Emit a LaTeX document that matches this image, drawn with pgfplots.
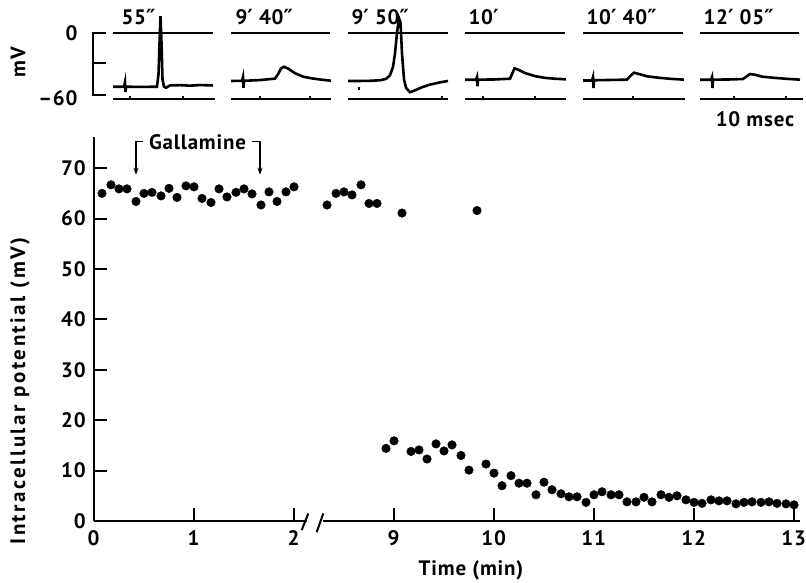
\documentclass[border=0pt]{standalone}
\usepackage{fontspec}
\setmainfont{PT Sans}[LetterSpace=4]
\newfontfamily\spaced{PT Sans}[LetterSpace=12]
\newfontfamily\dejavu{DejaVu Sans}
\usepackage{pgfplots}
\usepackage{pgfplotstable}
\pgfplotsset{compat=1.18}
\usetikzlibrary{arrows.meta}

\newcommand{\pr}{{\dejavu\bfseries\char"2032}}
\newcommand{\dpr}{{\dejavu\bfseries\char"2033}}

% intracellular potential, first 2 min (before the break)
\pgfplotstableread{
t v
0.08 65.0
0.17 66.7
0.25 65.9
0.33 65.9
0.42 63.4
0.50 65.0
0.58 65.2
0.67 64.5
0.75 66.0
0.83 64.2
0.92 66.5
1.00 66.3
1.08 64.0
1.17 63.2
1.25 65.9
1.33 64.3
1.42 65.2
1.50 65.9
1.58 64.9
1.67 62.7
1.75 65.3
1.83 63.4
1.92 65.3
2.00 66.3
}\early

% after the break (8-13 min)
\pgfplotstableread{
t v
8.33 62.7
8.42 65.0
8.50 65.3
8.58 64.7
8.67 66.7
8.75 63.0
8.83 63.0
9.08 61.1
9.83 61.6
8.92 14.4
9.00 15.9
9.17 13.8
9.25 14.1
9.33 12.3
9.42 15.3
9.50 13.9
9.58 15.1
9.67 13.0
9.75 10.1
9.92 11.3
10.00 9.5
10.08 7.0
10.17 9.0
10.25 7.5
10.33 7.5
10.42 5.2
10.50 7.7
10.58 6.2
10.67 5.4
10.75 4.8
10.83 4.8
10.92 3.7
11.00 5.2
11.08 5.8
11.17 5.2
11.25 5.2
11.33 3.8
11.42 3.8
11.50 4.7
11.58 3.8
11.67 5.2
11.75 4.7
11.83 5.0
11.92 4.2
12.00 3.7
12.08 3.5
12.17 4.2
12.25 4.0
12.33 4.0
12.42 3.4
12.50 3.7
12.58 3.8
12.67 3.7
12.75 3.8
12.83 3.5
12.92 3.4
13.00 3.2
}\late

\begin{document}
\begin{tikzpicture}[font=\fontsize{21}{25}\selectfont\bfseries]
\useasboundingbox (0,0) rectangle (806bp,583bp);

% ---- oscilloscope traces (x in px, y in mV)
\begin{axis}[at={(0bp,477.6bp)}, anchor=south west, x=1bp, y=1.038bp,
  xmin=0, xmax=806, ymin=-70, ymax=20, hide axis, clip=false,
  unbounded coords=jump]
% zero lines
\addplot[black, line width=2.4bp] coordinates {(113,0) (213,0) (220,nan)
  (231,0) (330,0) (340,nan) (348,0) (448,0) (455,nan)
  (465,0) (565,0) (575,nan) (583,0) (683,0) (690,nan) (700,0) (799,0)};
% time-marker lines
\addplot[black, line width=2.4bp] coordinates {(113,-63.9) (215,-63.9) (220,nan)
  (231,-63.9) (331,-63.9) (340,nan) (348,-63.9) (448,-63.9) (455,nan)
  (465,-63.9) (566,-63.9) (575,nan) (583,-63.9) (685,-63.9) (690,nan) (700,-63.9) (803,-63.9)};
\addplot[black, line width=1.4bp] coordinates {(130,-63.9) (130,-61.0) (131,nan)
  (183,-63.9) (183,-61.0) (184,nan) (260,-63.9) (260,-61.0) (261,nan)
  (310,-63.9) (310,-61.0) (311,nan) (442,-63.9) (442,-61.0) (443,nan)
  (483,-63.9) (483,-61.0) (484,nan) (535,-63.9) (535,-61.0) (536,nan)
  (633,-63.9) (633,-61.0) (634,nan) (734,-63.9) (734,-61.0) (735,nan)
  (786,-63.9) (786,-61.0)};
% voltage scale bar
\addplot[black, line width=2.4bp] coordinates {(106,0) (92.7,0) (92.7,-60) (106,-60)};
\addplot[black, line width=2.4bp] coordinates {(92.7,-29) (106,-29)};
% 55''
\addplot[black, line width=2.6bp] coordinates {(113,-52) (124,-52) (125,-47.5) (125.5,-57)
  (126,-52) (140,-52.2) (157,-52) (158.5,-40) (159.5,-10) (160.5,16) (161.5,-10)
  (162.5,-45) (164,-52) (166,-53) (170,-50.8) (180,-50.5) (190,-51) (200,-50.4) (213,-50.8)};
% 9'40''
\addplot[black, line width=2.6bp] coordinates {(231,-46.5) (242,-46.3) (243,-42.5) (243.5,-53)
  (244,-46.3) (260,-45.6) (275,-44.2) (278,-40) (281,-34.5) (284,-32.8) (288,-34.5)
  (295,-39) (303,-42.3) (312,-44) (322,-45.3) (331,-46.2)};
% 9'50''
\addplot[black, line width=2.6bp] coordinates {(348,-46.5) (358,-46.5) (370,-46.3) (380,-45.8)
  (386,-44.5) (390,-41) (393,-33) (395,-20) (397,0) (399,14) (400.5,10) (402,-20)
  (404,-45) (406,-53) (410,-57.3) (415,-55.5) (422,-52.5) (430,-50) (440,-47.8) (448,-46.5)};
\addplot[black, line width=1.6bp] coordinates {(359,-52) (359,-55)};
% 10'
\addplot[black, line width=2.6bp] coordinates {(465,-45.3) (476,-45.3) (477,-42.7) (477.5,-51.5)
  (478,-45.2) (495,-45) (510,-44.3) (512,-40) (514.5,-34.3) (518,-35.5) (525,-38.8)
  (535,-41.8) (545,-43.5) (555,-44.3) (566,-44.9)};
% 10'40''
\addplot[black, line width=2.6bp] coordinates {(583,-46) (592,-46) (593,-42.7) (593.5,-53.3)
  (594,-45.8) (610,-45.5) (627,-45.2) (630,-42) (634,-38.5) (640,-40) (647,-42)
  (660,-43.5) (672,-44.5) (684,-45.2)};
% 12'05''
\addplot[black, line width=2.6bp] coordinates {(700,-45.3) (711,-45.3) (712,-42.7) (712.5,-53.3)
  (713,-45.2) (730,-45) (743,-44.6) (746,-42.5) (750,-39.8) (755,-40.5) (762,-42.3)
  (775,-43.5) (788,-44.5) (800,-45.2)};
\end{axis}

\node[anchor=east] at (81bp,550bp) {0};
\node[anchor=east] at (81bp,485bp) {–60};
\node[rotate=90] at (18bp,521bp) {mV};
\node[anchor=base west] at (118bp,558bp) {55\dpr};
\node[anchor=base west] at (232bp,558bp) {9\pr{} 40\dpr};
\node[anchor=base west] at (348bp,558bp) {9\pr{} 50\dpr};
\node[anchor=base west] at (465bp,558bp) {10\pr};
\node[anchor=base west] at (583bp,558bp) {10\pr{} 40\dpr};
\node[anchor=base west] at (700bp,558bp) {12\pr{} 05\dpr};
\node at (755bp,464bp) {10 msec};

% ---- main plot (x: 0-2 min, then 9-13 min shifted by 6)
\begin{axis}[at={(94bp,62bp)}, anchor=south west, x=100bp, y=5.04bp,
  xmin=0, xmax=7.06, ymin=0, ymax=76.2, clip=false,
  axis x line=bottom, axis y line=left,
  x axis line style={draw=none},
  y axis line style={-, line width=2.5bp},
  tick align=inside, major tick length=13bp,
  tick style={line width=2bp, black},
  xtick={0,1,2,3,4,5,6,7},
  xticklabels={\textbf{0},\textbf{1},\textbf{2},\textbf{9},\textbf{10},\textbf{11},\textbf{12},\textbf{13}},
  ytick={0,10,20,30,40,50,60,70},
  yticklabels={\textbf{0},\textbf{10},\textbf{20},\textbf{30},\textbf{40},\textbf{50},\textbf{60},\textbf{70}},
  xticklabel style={yshift=-6bp},
  yticklabel style={xshift=-4bp}]
\addplot[only marks, mark=*, mark size=4.3bp, black] table[x=t, y=v] {\early};
\addplot[only marks, mark=*, mark size=4.3bp, black] table[x expr=\thisrow{t}-6, y=v] {\late};
\draw[line width=2.5bp] (axis cs:0,0) -- (axis cs:2.13,0);
\draw[line width=2.5bp] (axis cs:2.29,0) -- (axis cs:7.06,0);
\draw[line width=2bp] (axis cs:2.077,-1.8) -- (axis cs:2.143,1.5);
\draw[line width=2bp] (axis cs:2.227,-2.2) -- (axis cs:2.293,1.5);
\node at (axis cs:1.035,75.2) {Gallamine};
\draw[line width=1.6bp, -{Stealth[length=7bp,width=5bp]}] (axis cs:0.49,75.3) -- (axis cs:0.42,75.3) -- (axis cs:0.42,68.7);
\draw[line width=1.6bp, -{Stealth[length=7bp,width=5bp]}] (axis cs:1.58,75.3) -- (axis cs:1.66,75.3) -- (axis cs:1.66,68.7);
\end{axis}

\node at (471bp,13bp) {Time (min)};
\node[rotate=90] at (20bp,192bp) {\spaced Intracellular potential (mV)};
\end{tikzpicture}
\end{document}
